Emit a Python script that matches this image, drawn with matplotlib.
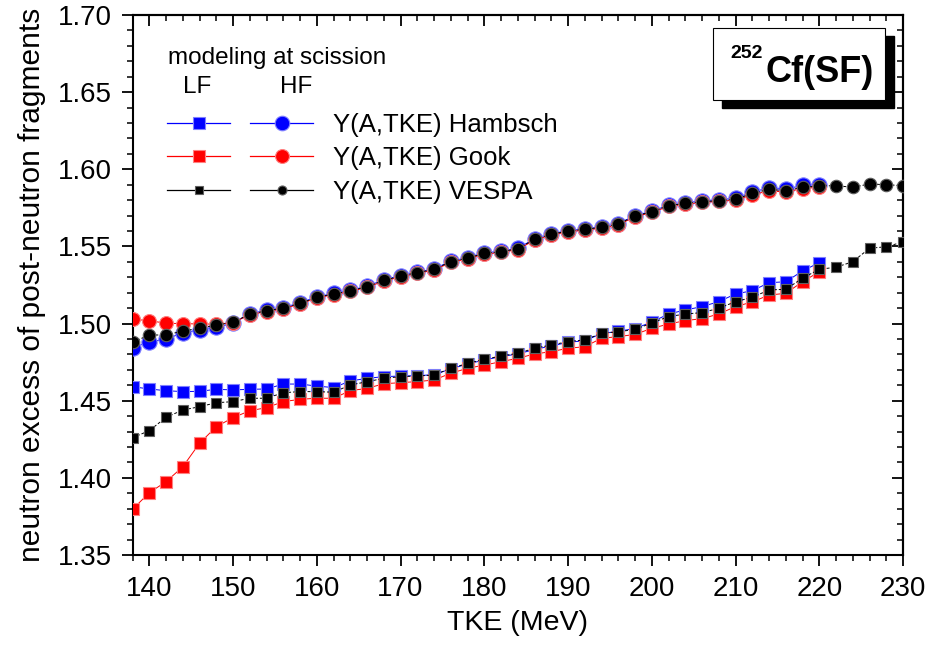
import matplotlib
matplotlib.use('Agg')
import matplotlib.pyplot as plt
from matplotlib.lines import Line2D
from matplotlib.legend_handler import HandlerTuple
from matplotlib.patches import Rectangle
from matplotlib.ticker import MultipleLocator, FormatStrFormatter

plt.rcParams['font.family'] = ['Liberation Sans', 'DejaVu Sans']

# TKE grid (MeV)
tke_short = list(range(138, 221, 2))   # Hambsch, Gook
tke_long = list(range(138, 231, 2))    # VESPA

# heavy fragments (HF)
hf_hambsch = [1.4840, 1.4883, 1.4898, 1.4941, 1.4958, 1.4976, 1.5002, 1.5065, 1.5085, 1.5104,
              1.5134, 1.5173, 1.5195, 1.5216, 1.5242, 1.5283, 1.5311, 1.5333, 1.5355, 1.5404,
              1.5428, 1.5458, 1.5469, 1.5488, 1.5549, 1.5582, 1.5603, 1.5614, 1.5627, 1.5648,
              1.5700, 1.5728, 1.5767, 1.5783, 1.5795, 1.5803, 1.5812, 1.5852, 1.5880, 1.5872,
              1.5895, 1.5900]
hf_gook = [1.5028, 1.5019, 1.5002, 1.5000, 1.4997, 1.4997, 1.5005, 1.5058, 1.5078, 1.5096,
           1.5127, 1.5166, 1.5188, 1.5208, 1.5235, 1.5275, 1.5303, 1.5325, 1.5347, 1.5396,
           1.5420, 1.5450, 1.5461, 1.5480, 1.5541, 1.5574, 1.5595, 1.5606, 1.5619, 1.5640,
           1.5692, 1.5720, 1.5759, 1.5774, 1.5785, 1.5792, 1.5800, 1.5835, 1.5860, 1.5853,
           1.5875, 1.5884]
hf_vespa = [1.4879, 1.4926, 1.4926, 1.4952, 1.4969, 1.4990, 1.5008, 1.5062, 1.5082, 1.5101,
            1.5131, 1.5170, 1.5192, 1.5213, 1.5239, 1.5280, 1.5308, 1.5330, 1.5352, 1.5401,
            1.5425, 1.5455, 1.5466, 1.5485, 1.5546, 1.5579, 1.5600, 1.5611, 1.5624, 1.5645,
            1.5697, 1.5725, 1.5764, 1.5779, 1.5790, 1.5797, 1.5805, 1.5844, 1.5870, 1.5861,
            1.5883, 1.5892, 1.5894, 1.5883, 1.5905, 1.5900, 1.5894]

# light fragments (LF)
lf_hambsch = [1.4591, 1.4576, 1.4565, 1.4559, 1.4561, 1.4574, 1.4570, 1.4574, 1.4576, 1.4608,
              1.4608, 1.4595, 1.4585, 1.4628, 1.4645, 1.4656, 1.4660, 1.4662, 1.4669, 1.4706,
              1.4738, 1.4764, 1.4786, 1.4803, 1.4832, 1.4855, 1.4878, 1.4889, 1.4935, 1.4950,
              1.4968, 1.5010, 1.5062, 1.5088, 1.5110, 1.5142, 1.5192, 1.5213, 1.5265, 1.5271,
              1.5341, 1.5395]
lf_gook = [1.3796, 1.3904, 1.3975, 1.4072, 1.4224, 1.4332, 1.4390, 1.4435, 1.4455, 1.4494,
           1.4509, 1.4516, 1.4516, 1.4565, 1.4580, 1.4610, 1.4617, 1.4624, 1.4634, 1.4678,
           1.4710, 1.4731, 1.4753, 1.4775, 1.4803, 1.4818, 1.4840, 1.4850, 1.4905, 1.4915,
           1.4930, 1.4969, 1.4997, 1.5019, 1.5032, 1.5062, 1.5110, 1.5140, 1.5185, 1.5196,
           1.5271, 1.5336]
lf_vespa = [1.4260, 1.4306, 1.4392, 1.4440, 1.4461, 1.4487, 1.4494, 1.4516, 1.4516, 1.4552,
            1.4559, 1.4559, 1.4555, 1.4602, 1.4623, 1.4645, 1.4656, 1.4660, 1.4667, 1.4710,
            1.4742, 1.4768, 1.4790, 1.4807, 1.4840, 1.4861, 1.4883, 1.4894, 1.4937, 1.4947,
            1.4962, 1.5004, 1.5045, 1.5062, 1.5071, 1.5099, 1.5142, 1.5170, 1.5218, 1.5222,
            1.5294, 1.5352, 1.5365, 1.5401, 1.5488, 1.5498, 1.5529]

labels = ['Y(A,TKE) Hambsch', 'Y(A,TKE) Gook', 'Y(A,TKE) VESPA']

fig = plt.figure(figsize=(9.42, 6.47), dpi=100)
ax = fig.add_axes([0.1407, 0.1422, 0.8179, 0.8346])

# style per series: (line colour, marker edge colour)
blue = ('#0000ff', '#8080ff')
red = ('#ff0000', '#ff8080')
black = ('#000000', '#606060')

ax.plot(tke_short, lf_hambsch, '-', color=blue[0], lw=0.7, marker='s', ms=8,
        mfc=blue[0], mec=blue[1], mew=0.8, zorder=3)
ax.plot(tke_short, hf_hambsch, '-', color=blue[0], lw=0.7, marker='o', ms=11,
        mfc=blue[0], mec=blue[1], mew=0.8, zorder=3)
ax.plot(tke_short, lf_gook, '-', color=red[0], lw=0.7, marker='s', ms=8,
        mfc=red[0], mec=red[1], mew=0.8, zorder=4)
ax.plot(tke_short, hf_gook, '-', color=red[0], lw=0.7, marker='o', ms=10,
        mfc=red[0], mec=red[1], mew=0.8, zorder=4)
ax.plot(tke_long, lf_vespa, '--', color=black[0], lw=0.7, dashes=(3, 2), marker='s', ms=7.5,
        mfc=black[0], mec=black[1], mew=0.8, zorder=5)
ax.plot(tke_long, hf_vespa, '--', color=black[0], lw=0.7, dashes=(3, 2), marker='o', ms=9,
        mfc=black[0], mec=black[1], mew=0.8, zorder=5)

ax.set_xlim(138, 230)
ax.set_ylim(1.35, 1.70)
ax.xaxis.set_major_locator(MultipleLocator(10))
ax.xaxis.set_minor_locator(MultipleLocator(2))
ax.yaxis.set_major_locator(MultipleLocator(0.05))
ax.yaxis.set_minor_locator(MultipleLocator(0.01))
ax.yaxis.set_major_formatter(FormatStrFormatter('%.2f'))
ax.tick_params(which='major', direction='out', length=8, width=1.3, labelsize=20, pad=7,
               top=False, right=False)
ax.tick_params(which='minor', direction='out', length=4.5, width=1.1, top=False, right=False)
for s in ax.spines.values():
    s.set_linewidth(1.5)

# inward ticks on top and right
top = ax.secondary_xaxis('top')
top.xaxis.set_major_locator(MultipleLocator(10))
top.xaxis.set_minor_locator(MultipleLocator(2))
top.tick_params(which='major', direction='in', length=8, width=1.3, labeltop=False)
top.tick_params(which='minor', direction='in', length=4.5, width=1.1)
top.spines['top'].set_linewidth(1.5)
right = ax.secondary_yaxis('right')
right.yaxis.set_major_locator(MultipleLocator(0.05))
right.yaxis.set_minor_locator(MultipleLocator(0.01))
right.tick_params(which='major', direction='in', length=8, width=1.3, labelright=False)
right.tick_params(which='minor', direction='in', length=4.5, width=1.1)
right.spines['right'].set_linewidth(1.5)

ax.set_xlabel('TKE (MeV)', fontsize=20.5, labelpad=6)
ax.set_ylabel('neutron excess of post-neutron fragments', fontsize=21.5, labelpad=8)

# legend
def mk(c, m, ms, ls='-'):
    return Line2D([], [], color=c[0], lw=0.9, ls=ls, marker=m, ms=ms, mfc=c[0], mec=c[1], mew=0.8)

handles = [(mk(blue, 's', 8), mk(blue, 'o', 10.5)),
           (mk(red, 's', 8), mk(red, 'o', 10)),
           (mk(black, 's', 6), mk(black, 'o', 6.5))]
leg = ax.legend(handles, labels, handler_map={tuple: HandlerTuple(ndivide=None, pad=0.78)},
                loc='upper left', bbox_to_anchor=(0.045, 0.819), frameon=False,
                fontsize=18.5, handlelength=5.68, handletextpad=0.78, labelspacing=0.37,
                borderpad=0, borderaxespad=0, numpoints=1)

ax.text(0.046, 0.921, 'modeling at scission', transform=ax.transAxes, fontsize=17.5,
        ha='left', va='center')
ax.text(0.084, 0.866, 'LF', transform=ax.transAxes, fontsize=17.5, ha='center', va='center')
ax.text(0.212, 0.866, 'HF', transform=ax.transAxes, fontsize=17.5, ha='center', va='center')

# label box with shadow
ax.add_patch(Rectangle((0.7647, 0.8278), 0.2232, 0.1333, transform=ax.transAxes,
                       facecolor='black', edgecolor='black', zorder=6, clip_on=False))
ax.add_patch(Rectangle((0.7534, 0.8426), 0.2232, 0.1333, transform=ax.transAxes,
                       facecolor='white', edgecolor='black', lw=0.8, zorder=7, clip_on=False))
ax.text(0.7755, 0.920, '252', transform=ax.transAxes, fontsize=14, fontweight='bold',
        ha='left', va='baseline', zorder=8)
ax.text(0.8209, 0.876, 'Cf(SF)', transform=ax.transAxes, fontsize=26, fontweight='bold',
        ha='left', va='baseline', zorder=8)

fig.savefig('out.png', dpi=100)
